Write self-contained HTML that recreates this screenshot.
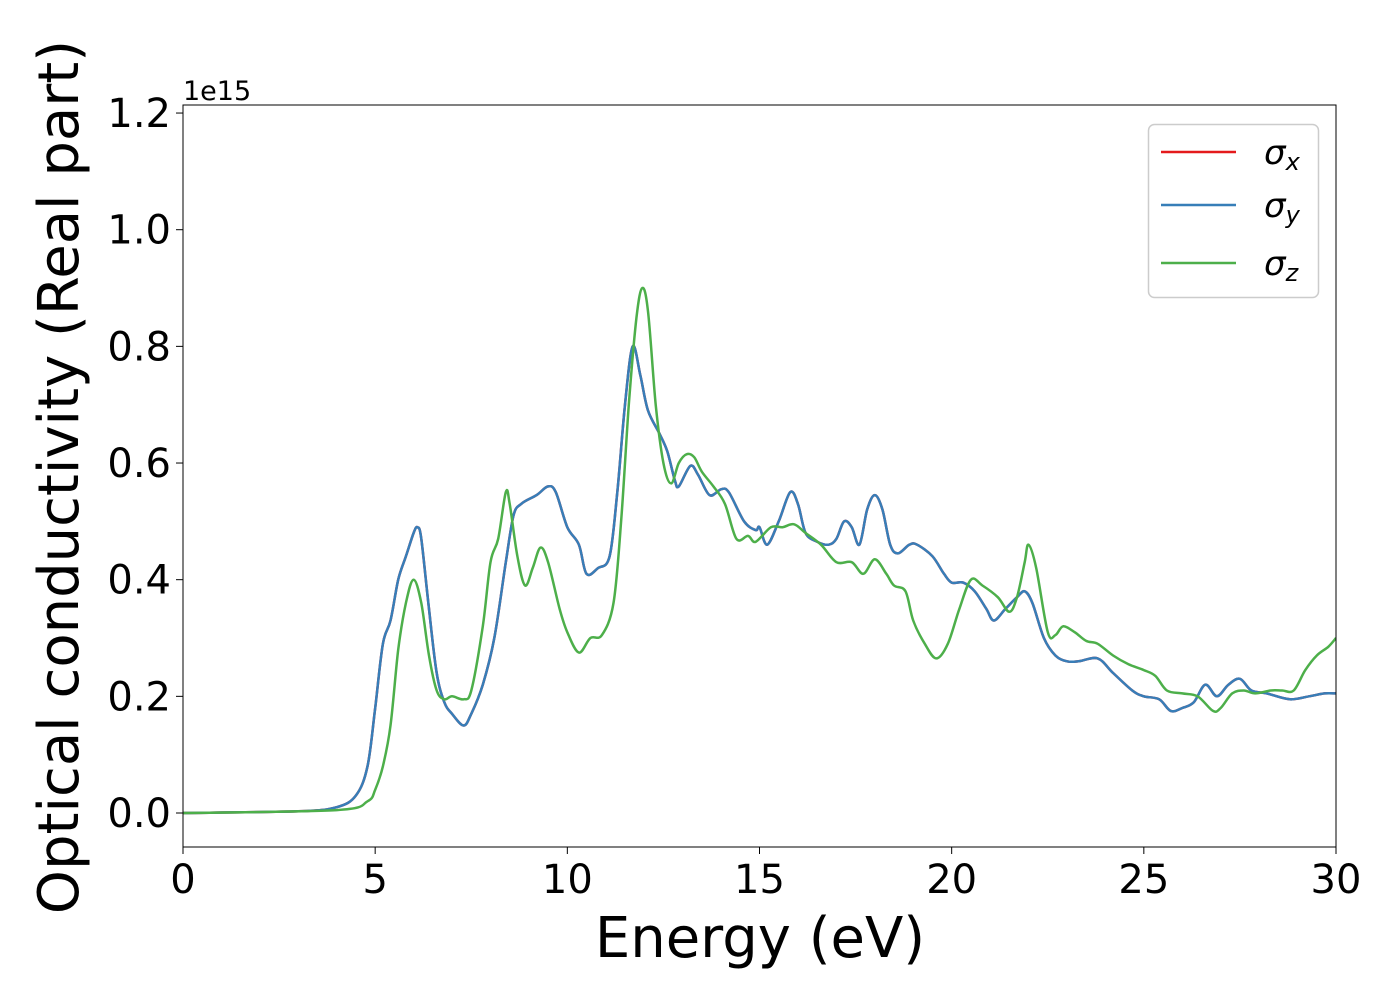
<!DOCTYPE html>
<html><head><meta charset="utf-8"><style>
html,body{margin:0;padding:0;background:#fff}
svg{display:block;font-family:"DejaVu Sans","Liberation Sans",sans-serif}
</style></head><body>
<svg id="chart" width="1400" height="1000">
<rect x="0" y="0" width="1400" height="1000" fill="#fff"/>
<g id="plot"></g>
<g id="axes"></g>
<text x="183" y="100" font-size="27">1e15</text>
<text x="760" y="957" font-size="56" text-anchor="middle">Energy (eV)</text>
<text transform="translate(78,477) rotate(-90)" font-size="56" text-anchor="middle">Optical conductivity (Real part)</text>
<g>
<rect x="1148.5" y="124.5" width="170" height="173" rx="6" fill="#fff" fill-opacity="0.8" stroke="#ccc" stroke-width="1.5"/>
<line x1="1161" y1="152" x2="1236" y2="152" stroke="#e41a1c" stroke-width="2.5"/>
<text x="1264" y="164" font-size="34" font-style="italic">σ<tspan font-size="24" dy="6">x</tspan></text>
<line x1="1161" y1="205" x2="1236" y2="205" stroke="#377eb8" stroke-width="2.5"/>
<text x="1264" y="217" font-size="34" font-style="italic">σ<tspan font-size="24" dy="6">y</tspan></text>
<line x1="1161" y1="263" x2="1236" y2="263" stroke="#4daf4a" stroke-width="2.5"/>
<text x="1264" y="275" font-size="34" font-style="italic">σ<tspan font-size="24" dy="6">z</tspan></text>
</g>
</svg>
<script>
const xTicks=[0,5,10,15,20,25,30];
const yTicks=[0,0.2,0.4,0.6,0.8,1.0,1.2];
const yTickLabels=["0.0","0.2","0.4","0.6","0.8","1.0","1.2"];
const energyXY=[0,3,4,4.5,4.8,5.0,5.2,5.4,5.6,5.8,6.0,6.1,6.2,6.4,6.6,6.8,7.0,7.3,7.5,7.8,8.1,8.4,8.6,8.8,9.2,9.5,9.7,10.0,10.3,10.5,10.8,11.1,11.3,11.5,11.7,11.9,12.1,12.4,12.6,12.8,12.9,13.2,13.4,13.7,14.0,14.2,14.6,14.9,15.0,15.2,15.5,15.8,16.0,16.2,16.5,16.8,17.0,17.2,17.4,17.6,17.8,18.0,18.2,18.4,18.6,18.9,19.1,19.5,19.8,20.0,20.3,20.6,20.9,21.1,21.4,21.7,21.9,22.1,22.4,22.7,23.0,23.3,23.8,24.2,24.7,25.0,25.4,25.7,26.0,26.3,26.6,26.9,27.2,27.5,27.8,28.2,28.8,29.3,29.7,30];
const sigmaXY=[0,0.003,0.01,0.03,0.08,0.18,0.29,0.33,0.40,0.44,0.48,0.49,0.47,0.35,0.24,0.19,0.17,0.15,0.17,0.22,0.30,0.43,0.51,0.53,0.545,0.56,0.55,0.49,0.46,0.41,0.42,0.44,0.55,0.70,0.80,0.75,0.69,0.65,0.62,0.57,0.56,0.595,0.58,0.545,0.555,0.55,0.50,0.485,0.49,0.46,0.50,0.55,0.53,0.48,0.465,0.46,0.47,0.50,0.49,0.46,0.52,0.545,0.52,0.46,0.445,0.46,0.46,0.44,0.41,0.395,0.395,0.38,0.35,0.33,0.35,0.37,0.38,0.36,0.30,0.27,0.26,0.26,0.265,0.24,0.21,0.20,0.195,0.175,0.18,0.19,0.22,0.20,0.22,0.23,0.21,0.205,0.195,0.20,0.205,0.205];
const energyZ=[0,4,4.8,5.0,5.2,5.4,5.6,5.8,6.0,6.2,6.4,6.6,6.8,7.0,7.3,7.5,7.8,8.0,8.2,8.4,8.5,8.7,8.9,9.1,9.3,9.5,9.8,10.0,10.3,10.6,10.9,11.2,11.4,11.6,11.8,11.95,12.1,12.3,12.5,12.7,12.9,13.1,13.3,13.5,13.8,14.1,14.4,14.7,14.9,15.3,15.6,15.9,16.2,16.6,17.0,17.4,17.7,18.0,18.3,18.5,18.8,19.0,19.3,19.6,19.9,20.2,20.5,20.8,21.2,21.5,21.7,21.9,22.0,22.2,22.5,22.7,22.9,23.2,23.5,23.8,24.2,24.6,25.0,25.3,25.6,26.0,26.4,26.8,27.0,27.3,27.6,27.9,28.3,28.6,28.9,29.2,29.5,29.8,30];
const sigmaZ=[0,0.005,0.02,0.04,0.08,0.15,0.28,0.36,0.40,0.36,0.27,0.21,0.195,0.20,0.195,0.21,0.32,0.43,0.47,0.55,0.53,0.44,0.39,0.42,0.455,0.43,0.35,0.31,0.275,0.30,0.305,0.36,0.50,0.70,0.85,0.90,0.86,0.70,0.60,0.565,0.60,0.615,0.61,0.585,0.56,0.53,0.47,0.475,0.465,0.49,0.49,0.495,0.48,0.46,0.43,0.43,0.41,0.435,0.41,0.39,0.38,0.33,0.29,0.265,0.29,0.35,0.40,0.39,0.37,0.345,0.37,0.43,0.46,0.42,0.31,0.305,0.32,0.31,0.295,0.29,0.27,0.255,0.245,0.235,0.21,0.205,0.20,0.175,0.18,0.205,0.21,0.205,0.21,0.21,0.21,0.245,0.27,0.285,0.30];

const L=183,R=1336,T=105,B=847;
const X=v=>L+(v-0)/30*(R-L);
const Y0=813,PY=583.3;
const Y=v=>Y0-v*PY;
const NS="http://www.w3.org/2000/svg";
const plot=document.getElementById('plot'),axes=document.getElementById('axes');
function mk(t,a,p){const e=document.createElementNS(NS,t);for(const k in a)e.setAttribute(k,a[k]);p.appendChild(e);return e;}
const defs=mk('defs',{},plot);
const cp=mk('clipPath',{id:'clip'},defs);mk('rect',{x:L,y:T,width:R-L,height:B-T},cp);
function smooth(xs,ys){
  const p=xs.map((x,i)=>[X(x),Y(ys[i])]);
  let d='M'+p[0][0].toFixed(1)+','+p[0][1].toFixed(1);
  for(let i=0;i<p.length-1;i++){
    const p0=p[i-1]||p[i],p1=p[i],p2=p[i+1],p3=p[i+2]||p2;
    const c1=[p1[0]+(p2[0]-p0[0])/6,p1[1]+(p2[1]-p0[1])/6];
    const c2=[p2[0]-(p3[0]-p1[0])/6,p2[1]-(p3[1]-p1[1])/6];
    d+=`C${c1[0].toFixed(1)},${c1[1].toFixed(1)} ${c2[0].toFixed(1)},${c2[1].toFixed(1)} ${p2[0].toFixed(1)},${p2[1].toFixed(1)}`;
  }
  return d;
}
const g=mk('g',{'clip-path':'url(#clip)'},plot);
const lx=mk('path',{d:smooth(energyXY,sigmaXY),fill:'none',stroke:'#e41a1c','stroke-width':2.5},g);


const ly=mk('path',{d:smooth(energyXY,sigmaXY),fill:'none',stroke:'#377eb8','stroke-width':2.5},g);


const lz=mk('path',{d:smooth(energyZ,sigmaZ),fill:'none',stroke:'#4daf4a','stroke-width':2.5},g);


const frame=mk('rect',{x:L,y:T,width:R-L,height:B-T,fill:'none',stroke:'#000','stroke-width':1},axes);


xTicks.forEach(v=>{
  mk('line',{x1:X(v),x2:X(v),y1:B,y2:B+7,stroke:'#000','stroke-width':1},axes);
  const t=mk('text',{x:X(v),y:B+46,'font-size':40,'text-anchor':'middle'},axes);t.textContent=v;
  
  
});
yTicks.forEach((v,i)=>{
  mk('line',{x1:L-7,x2:L,y1:Y(v),y2:Y(v),stroke:'#000','stroke-width':1},axes);
  const t=mk('text',{x:L-12,y:Y(v)+14,'font-size':40,'text-anchor':'end'},axes);t.textContent=yTickLabels[i];
  
  
});
</script>
</body></html>
